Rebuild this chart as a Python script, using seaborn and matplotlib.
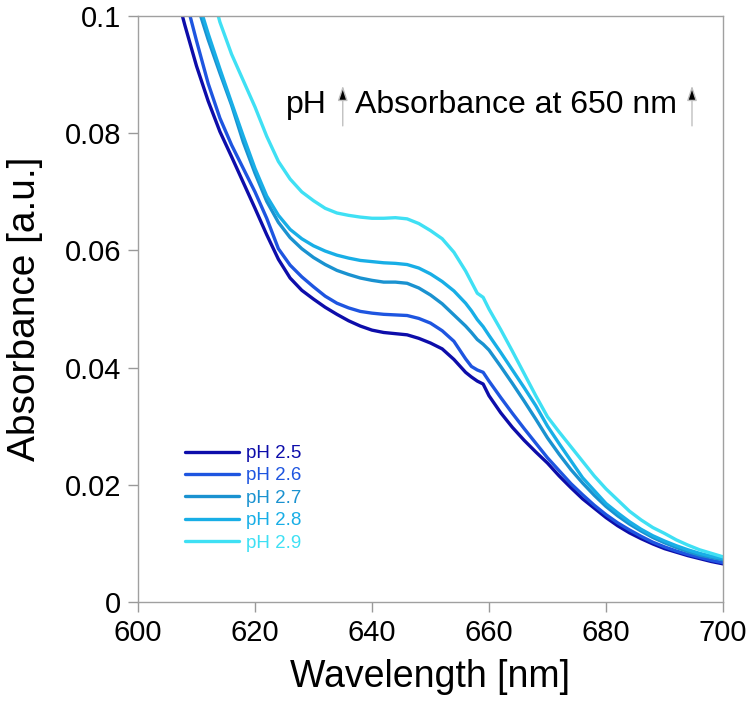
import numpy as np
import pandas as pd
import matplotlib
matplotlib.use('Agg')
import matplotlib.pyplot as plt
import seaborn as sns

# wavelength grid (nm)
wavelength = [606, 608, 610, 612, 614, 616, 618, 620, 622, 624, 626, 628, 630, 632, 634,
              636, 638, 640, 642, 644, 646, 648, 650, 652, 654, 656, 657, 658, 659, 660,
              662, 664, 666, 668, 670, 672, 674, 676, 678, 680, 682, 684, 686, 688, 690,
              692, 694, 696, 698, 700]

abs_ph25 = [0.106, 0.0985, 0.0915, 0.0855, 0.0803, 0.0760, 0.0716, 0.0672, 0.0627, 0.0585,
            0.0553, 0.0532, 0.0517, 0.0503, 0.0491, 0.0480, 0.0471, 0.0464, 0.0460, 0.0458,
            0.0456, 0.0450, 0.0442, 0.0432, 0.0414, 0.0392, 0.0384, 0.0377, 0.0372, 0.0352,
            0.0323, 0.0298, 0.0276, 0.0256, 0.0237, 0.0215, 0.0195, 0.0176, 0.0160, 0.0144,
            0.0130, 0.0118, 0.0108, 0.0099, 0.0091, 0.0085, 0.0079, 0.0074, 0.0069, 0.0065]

abs_ph26 = [0.112, 0.1035, 0.0958, 0.0885, 0.0826, 0.0780, 0.0740, 0.0700, 0.0655, 0.0603,
            0.0575, 0.0555, 0.0538, 0.0522, 0.0510, 0.0502, 0.0496, 0.0493, 0.0491, 0.0490,
            0.0489, 0.0484, 0.0476, 0.0463, 0.0445, 0.0415, 0.0402, 0.0396, 0.0392, 0.0377,
            0.0349, 0.0322, 0.0296, 0.0271, 0.0246, 0.0224, 0.0202, 0.0183, 0.0165, 0.0149,
            0.0135, 0.0123, 0.0112, 0.0102, 0.0094, 0.0087, 0.0081, 0.0076, 0.0071, 0.0067]

abs_ph27 = [0.119, 0.110, 0.1023, 0.0960, 0.0903, 0.0848, 0.0785, 0.0732, 0.0684, 0.0648,
            0.0622, 0.0603, 0.0588, 0.0576, 0.0566, 0.0559, 0.0553, 0.0549, 0.0546, 0.0546,
            0.0544, 0.0536, 0.0524, 0.0509, 0.0490, 0.0471, 0.0460, 0.0448, 0.0440, 0.0430,
            0.0402, 0.0373, 0.0343, 0.0312, 0.0280, 0.0252, 0.0226, 0.0203, 0.0182, 0.0163,
            0.0147, 0.0133, 0.0121, 0.0110, 0.0101, 0.0093, 0.0086, 0.0080, 0.0076, 0.0072]

abs_ph28 = [0.121, 0.1115, 0.1035, 0.0970, 0.0910, 0.0852, 0.0795, 0.0740, 0.0693, 0.0660,
            0.0636, 0.0620, 0.0608, 0.0599, 0.0592, 0.0587, 0.0583, 0.0581, 0.0579, 0.0578,
            0.0576, 0.0570, 0.0560, 0.0547, 0.0531, 0.0510, 0.0497, 0.0482, 0.0470, 0.0455,
            0.0426, 0.0396, 0.0366, 0.0335, 0.0300, 0.0270, 0.0241, 0.0212, 0.0190, 0.0168,
            0.0152, 0.0137, 0.0124, 0.0113, 0.0104, 0.0096, 0.0089, 0.0083, 0.0078, 0.0074]

abs_ph29 = [0.135, 0.125, 0.1155, 0.1065, 0.0990, 0.0935, 0.0890, 0.0845, 0.0795, 0.0752,
            0.0722, 0.0700, 0.0685, 0.0672, 0.0664, 0.0660, 0.0657, 0.0655, 0.0655, 0.0656,
            0.0654, 0.0646, 0.0634, 0.0620, 0.0597, 0.0565, 0.0546, 0.0527, 0.0520, 0.0500,
            0.0465, 0.0428, 0.0390, 0.0352, 0.0316, 0.0290, 0.0265, 0.0240, 0.0215, 0.0193,
            0.0174, 0.0155, 0.0140, 0.0127, 0.0117, 0.0106, 0.0097, 0.0089, 0.0083, 0.0077]

labels = ['pH 2.5', 'pH 2.6', 'pH 2.7', 'pH 2.8', 'pH 2.9']
colors = ['#0d0daa', '#1e55e0', '#1a92d0', '#18aee6', '#3fe0f4']
y_ticks = [0, 0.02, 0.04, 0.06, 0.08, 0.1]
y_ticklabels = ['0', '0.02', '0.04', '0.06', '0.08', '0.1']
x_ticks = [600, 620, 640, 660, 680, 700]

series = [abs_ph25, abs_ph26, abs_ph27, abs_ph28, abs_ph29]
df = pd.concat([pd.DataFrame({'Wavelength': wavelength, 'Absorbance': s, 'pH': lab})
                for s, lab in zip(series, labels)], ignore_index=True)

sns.set_style('white')
plt.rcParams['font.family'] = ['Liberation Sans', 'DejaVu Sans']
plt.rcParams['text.color'] = 'black'
plt.rcParams['axes.labelcolor'] = 'black'

fig = plt.figure(figsize=(7.5, 7.04), dpi=100)
ax = fig.add_axes([0.184, 0.145, 0.78, 0.832])

sns.lineplot(data=df, x='Wavelength', y='Absorbance', hue='pH',
             palette=dict(zip(labels, colors)), linewidth=2.4, ax=ax, legend=False)

ax.set_xlim(600, 700)
ax.set_ylim(0, 0.1)
ax.set_xticks(x_ticks)
ax.set_yticks(y_ticks)
ax.set_yticklabels(y_ticklabels)
ax.tick_params(axis='both', labelsize=21, length=7, width=1, color='#999999',
               labelcolor='black', direction='out', pad=5, bottom=True, left=True)
for sp in ax.spines.values():
    sp.set_color('#a0a0a0')
    sp.set_linewidth(1.0)

ax.set_xlabel('Wavelength [nm]', fontsize=27, labelpad=9)
ax.set_ylabel('Absorbance [a.u.]', fontsize=28, labelpad=16)

# legend with coloured text
handles = [plt.Line2D([], [], color=c, lw=2.4) for c in colors]
leg = ax.legend(handles, labels, loc='upper left', bbox_to_anchor=(0.08, 0.268),
                frameon=False, fontsize=13.5, handlelength=2.9, handletextpad=0.35,
                labelspacing=0.28, borderpad=0, borderaxespad=0)
for txt, c in zip(leg.get_texts(), colors):
    txt.set_color(c)

# annotation text with arrows
ax.text(625.3, 0.0834, 'pH', fontsize=23, va='baseline', ha='left')
ax.text(637.1, 0.0834, 'Absorbance at 650 nm', fontsize=23, va='baseline', ha='left')
for xa in [635.0, 694.7]:
    ax.annotate('', xy=(xa, 0.0886), xytext=(xa, 0.0808),
                arrowprops=dict(arrowstyle='-|>,head_width=0.3,head_length=0.9',
                                ec='#c0c0c0', fc='black', lw=1.0))

fig.savefig('out.png', dpi=100)
